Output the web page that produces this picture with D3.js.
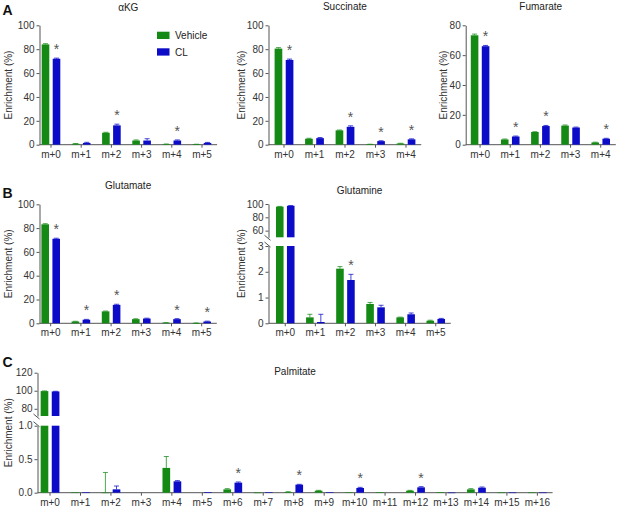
<!DOCTYPE html>
<html><head><meta charset="utf-8">
<script src="https://cdn.jsdelivr.net/npm/d3@7"></script>
<style>
body{margin:0;background:#fff;}
text{font-family:"Liberation Sans",Arial,Helvetica,sans-serif;}
</style></head><body>
<svg id="c" width="618" height="508"></svg>
<script>
// ---------- data ----------
const series = ["Vehicle", "CL"];

const akgCats = ["m+0","m+1","m+2","m+3","m+4","m+5"];
const akgVehicle = [84, 0.8, 10, 3.5, 0.5, 0.3];
const akgCL = [72, 1.5, 16.2, 3.5, 3.5, 1.5];
const akgVehicleErr = [0.6, 0.2, 0.4, 0.5, 0.1, 0.1];
const akgCLErr = [0.5, 0.5, 1.0, 1.5, 0.5, 0.4];
const akgSig = [1, 0, 1, 0, 1, 0];

const sucCats = ["m+0","m+1","m+2","m+3","m+4"];
const sucVehicle = [80.5, 5, 12, 0.3, 1];
const sucCL = [71, 5.5, 15, 3, 4.5];
const sucVehicleErr = [0.8, 0.4, 0.3, 0.1, 0.2];
const sucCLErr = [0.7, 0.5, 0.8, 0.3, 0.4];
const sucSig = [1, 0, 1, 1, 1];

const fumCats = ["m+0","m+1","m+2","m+3","m+4"];
const fumVehicle = [73.3, 3.5, 8.5, 12.8, 1.5];
const fumCL = [66, 5.5, 12.5, 11.5, 4];
const fumVehicleErr = [0.8, 0.3, 0.2, 0.4, 0.2];
const fumCLErr = [0.5, 0.3, 0.4, 0.3, 0.3];
const fumSig = [1, 1, 1, 0, 1];

const gluCats = ["m+0","m+1","m+2","m+3","m+4","m+5"];
const gluVehicle = [83.2, 1.5, 10, 3.5, 0.5, 0.2];
const gluCL = [71, 3, 15.5, 4, 3.5, 1.5];
const gluVehicleErr = [0.5, 0.2, 0.3, 0.3, 0.1, 0.1];
const gluCLErr = [0.5, 0.3, 0.5, 0.3, 0.4, 0.3];
const gluSig = [1, 1, 1, 0, 1, 1];

const glnCats = ["m+0","m+1","m+2","m+3","m+4","m+5"];
const glnVehicle = [96, 0.23, 2.12, 0.75, 0.23, 0.1];
const glnCL = [97.3, 0.05, 1.68, 0.62, 0.35, 0.17];
const glnVehicleErr = [0.4, 0.12, 0.08, 0.06, 0.01, 0.02];
const glnCLErr = [0.4, 0.3, 0.22, 0.08, 0.05, 0.02];
const glnSig = [0, 0, 1, 0, 0, 0];

const palCats = ["m+0","m+1","m+2","m+3","m+4","m+5","m+6","m+7","m+8","m+9","m+10","m+11","m+12","m+13","m+14","m+15","m+16"];
const palVehicle = [99.6, 0.004, 0.002, 0, 0.37, 0, 0.05, 0.002, 0.01, 0.03, 0.005, 0.01, 0.03, 0.01, 0.05, 0.003, 0.003];
const palCL = [99.2, 0.004, 0.05, 0, 0.17, 0.01, 0.15, 0.005, 0.12, 0.005, 0.07, 0, 0.08, 0.002, 0.075, 0.003, 0.003];
const palVehicleErr = [0.2, 0, 0.3, 0, 0.17, 0, 0.01, 0, 0.005, 0.005, 0, 0, 0.005, 0, 0.01, 0, 0];
const palCLErr = [0.2, 0, 0.05, 0, 0.01, 0, 0.01, 0, 0.005, 0, 0.01, 0, 0.01, 0, 0.01, 0, 0];
const palSig = [0,0,0,0,0,0,1,0,1,0,1,0,1,0,0,0,0];

// ---------- styles ----------
const colors = {Vehicle: "#148a14", CL: "#0c0cc8"};
const axisColor = "#555";
const textColor = "#333";

const svg = d3.select("#c");

function drawPanel(p) {
  const g = svg.append("g");
  const x = d3.scaleBand().domain(p.cats).range(p.xRange).paddingInner(0.384).paddingOuter(0.192);
  const xs = d3.scaleBand().domain(series).range([0, x.bandwidth()]).paddingInner(0.31);
  const segs = p.segments.map(s => Object.assign({}, s, {scale: d3.scaleLinear().domain(s.domain).range(s.range)}));
  const bottomY = segs[0].range[0];

  // y axes
  segs.forEach(s => {
    const ax = d3.axisLeft(s.scale).tickValues(s.ticks).tickSize(3).tickSizeOuter(0).tickPadding(2)
      .tickFormat(s.fmt ? d3.format(s.fmt) : d3.format("d"));
    const ag = g.append("g").attr("transform", `translate(${p.axisX},0)`).call(ax);
    ag.selectAll("path,line").attr("stroke", axisColor);
    ag.selectAll("text").attr("fill", textColor).style("font-size", "10px").style("font-family", "Liberation Sans, Arial, sans-serif");
  });
  // break marks
  if (segs.length > 1) {
    const yb1 = segs[1].range[0], yb2 = segs[0].range[1];
    [yb1 + 1, yb2 - 1].forEach(yy => {
      g.append("line").attr("x1", p.axisX - 4).attr("y1", yy - 3).attr("x2", p.axisX + 2).attr("y2", yy + 2)
        .attr("stroke", axisColor).attr("stroke-width", 1);
    });
  }

  // x axis
  const xa = d3.axisBottom(x).tickSize(3).tickSizeOuter(0).tickPadding(3);
  const xg = g.append("g").attr("transform", `translate(0,${bottomY})`).call(xa);
  xg.select(".domain").remove();
  xg.selectAll("line").attr("stroke", axisColor);
  xg.selectAll("text").attr("fill", textColor).style("font-size", "10px").style("font-family", "Liberation Sans, Arial, sans-serif");
  g.append("line").attr("x1", p.axisX).attr("x2", p.xRange[1]).attr("y1", bottomY).attr("y2", bottomY).attr("stroke", axisColor);

  // bars
  const valsBy = {Vehicle: p.veh, CL: p.cl};
  const errBy = {Vehicle: p.vehErr, CL: p.clErr};
  p.cats.forEach((c, i) => {
    series.forEach(sname => {
      const v = valsBy[sname][i];
      const e = errBy[sname][i];
      const bx = x(c) + xs(sname);
      const bw = xs.bandwidth();
      segs.forEach(s => {
        if (v > s.domain[0]) {
          const y0 = s.scale(s.domain[0]);
          const y1 = s.scale(Math.min(v, s.domain[1]));
          g.append("rect").attr("x", bx).attr("width", bw).attr("y", y1).attr("height", Math.max(0.6, y0 - y1))
            .attr("fill", colors[sname]);
        }
      });
      // error bar in segment containing value
      let seg = segs.find(s => v >= s.domain[0] && v <= s.domain[1]) || segs[0];
      const yv = seg.scale(v), ye = seg.scale(v + e);
      const cx = bx + bw / 2;
      if (e > 0) {
        g.append("line").attr("x1", cx).attr("x2", cx).attr("y1", yv).attr("y2", ye)
          .attr("stroke", colors[sname]).attr("stroke-width", 1).attr("opacity", 0.75);
        g.append("line").attr("x1", cx - 2.5).attr("x2", cx + 2.5).attr("y1", ye).attr("y2", ye)
          .attr("stroke", colors[sname]).attr("stroke-width", 1).attr("opacity", 0.75);
      }
      if (sname === "CL" && p.sig[i]) {
        g.append("text").attr("x", cx).attr("y", Math.min(ye, yv) - 4).attr("text-anchor", "middle")
          .attr("fill", "#555").style("font-size", "14px").text("*");
      }
    });
  });

  // title
  g.append("text").attr("x", (p.axisX + p.xRange[1]) / 2).attr("y", p.titleY).attr("text-anchor", "middle")
    .attr("fill", "#222").style("font-size", "10px").text(p.title);
  // y label
  const top = segs[segs.length - 1].range[1];
  const midY = (top + bottomY) / 2;
  g.append("text").attr("transform", `translate(${p.ylabelX},${midY}) rotate(-90)`).attr("text-anchor", "middle")
    .attr("fill", textColor).style("font-size", "10px").text("Enrichment (%)");
}

drawPanel({title: "αKG", titleY: 10.5, cats: akgCats, veh: akgVehicle, cl: akgCL, vehErr: akgVehicleErr, clErr: akgCLErr, sig: akgSig,
  xRange: [35.9, 217.1], axisX: 39.5, ylabelX: 11.5,
  segments: [{domain: [0, 100], range: [144.7, 25.3], ticks: [0, 20, 40, 60, 80, 100]}]});
drawPanel({title: "Succinate", titleY: 10, cats: sucCats, veh: sucVehicle, cl: sucCL, vehErr: sucVehicleErr, clErr: sucCLErr, sig: sucSig,
  xRange: [268.75, 421.25], axisX: 268.5, ylabelX: 244.5,
  segments: [{domain: [0, 100], range: [144.7, 25.3], ticks: [0, 20, 40, 60, 80, 100]}]});
drawPanel({title: "Fumarate", titleY: 10, cats: fumCats, veh: fumVehicle, cl: fumCL, vehErr: fumVehicleErr, clErr: fumCLErr, sig: fumSig,
  xRange: [465, 615.8], axisX: 465.7, ylabelX: 446.5,
  segments: [{domain: [0, 80], range: [144.7, 25.3], ticks: [0, 20, 40, 60, 80]}]});
drawPanel({title: "Glutamate", titleY: 189, cats: gluCats, veh: gluVehicle, cl: gluCL, vehErr: gluVehicleErr, clErr: gluCLErr, sig: gluSig,
  xRange: [35.6, 216.8], axisX: 39.5, ylabelX: 11.5,
  segments: [{domain: [0, 100], range: [323.3, 204.3], ticks: [0, 20, 40, 60, 80, 100]}]});
drawPanel({title: "Glutamine", titleY: 194, cats: glnCats, veh: glnVehicle, cl: glnCL, vehErr: glnVehicleErr, clErr: glnCLErr, sig: glnSig,
  xRange: [270.2, 450.8], axisX: 268.5, ylabelX: 244.5,
  segments: [{domain: [0, 3], range: [323.3, 246], ticks: [0, 1, 2, 3]},
             {domain: [50, 100], range: [237.3, 204], ticks: [60, 80, 100]}]});
drawPanel({title: "Palmitate", titleY: 375, cats: palCats, veh: palVehicle, cl: palCL, vehErr: palVehicleErr, clErr: palCLErr, sig: palSig,
  xRange: [34.8, 552.6], axisX: 37.5, ylabelX: 11.5,
  segments: [{domain: [0, 1], range: [492.7, 425.7], ticks: [0, 0.5, 1], fmt: ".1f"},
             {domain: [72, 120], range: [416, 372.7], ticks: [80, 100, 120]}]});

// legend
const legendItems = series;
const lg = svg.append("g");
legendItems.forEach((s, i) => {
  lg.append("rect").attr("x", 157).attr("y", 31.7 + i * 16.6).attr("width", 12.5).attr("height", 7.3).attr("fill", colors[s]);
  lg.append("text").attr("x", 175).attr("y", 39 + i * 16.6).attr("fill", "#222").style("font-size", "10px").text(s);
});

// panel letters
[["A", 15], ["B", 198], ["C", 367]].forEach(([t, y]) => {
  svg.append("text").attr("x", 2.5).attr("y", y).attr("fill", "#111").style("font-size", "14px").style("font-weight", "bold").text(t);
});
</script>
</body></html>
